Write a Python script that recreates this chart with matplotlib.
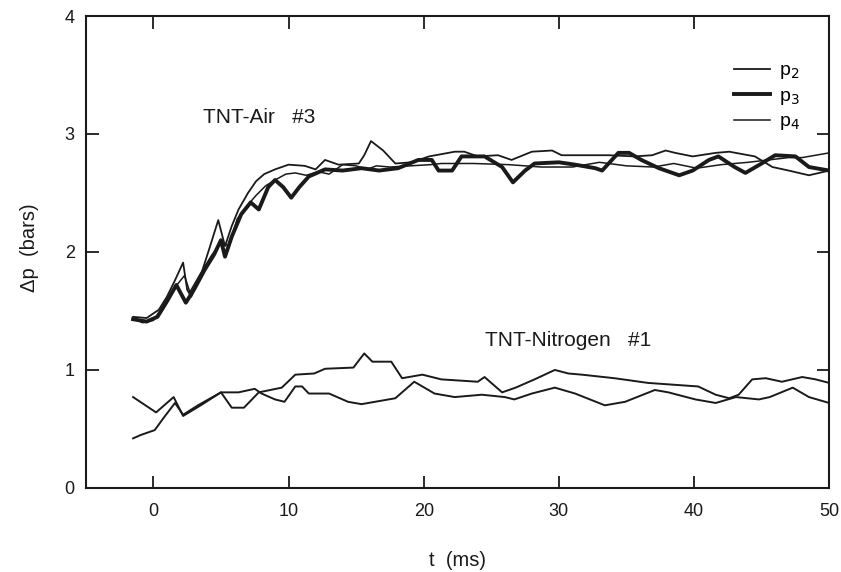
import matplotlib
matplotlib.use("Agg")
import matplotlib.pyplot as plt

plt.rcParams['font.family'] = ['Liberation Sans', 'DejaVu Sans']

# TNT-Air #3 traces
t_p2 = [-1.5, -0.5, 0.4, 1.0, 1.6, 2.2, 2.5, 2.8, 3.5, 4.2, 4.8, 5.3, 5.8, 6.3, 7.0, 7.6, 8.2, 9.0,
        10.0, 11.2, 12.0, 12.7, 13.7, 15.2, 15.6, 16.1, 17.0, 17.9, 19.1, 20.4, 22.3, 23.0, 24.0,
        25.5, 26.5, 28.0, 29.5, 30.2, 31.7, 33.7, 35.6, 36.9, 37.9, 38.6, 39.9, 41.6, 42.6, 44.5,
        45.8, 47.0, 48.5, 50.0]
p2_air = [1.45, 1.44, 1.51, 1.62, 1.76, 1.91, 1.68, 1.62, 1.80, 2.05, 2.27, 2.05, 2.22, 2.36, 2.50,
          2.60, 2.66, 2.70, 2.74, 2.73, 2.70, 2.78, 2.74, 2.75, 2.82, 2.94, 2.86, 2.75, 2.76, 2.81,
          2.85, 2.85, 2.81, 2.82, 2.78, 2.85, 2.86, 2.82, 2.82, 2.82, 2.81, 2.82, 2.86, 2.84, 2.81,
          2.84, 2.85, 2.81, 2.72, 2.69, 2.65, 2.69]

t_p3 = [-1.5, -0.5, 0.3, 1.0, 1.7, 2.4, 3.0, 3.8, 4.5, 5.0, 5.3, 5.8, 6.5, 7.2, 7.8, 8.5, 9.0, 9.6,
        10.2, 10.8, 11.5, 12.7, 14.0, 15.4, 16.7, 18.1, 19.6, 20.6, 21.1, 22.1, 22.8, 24.5, 25.8,
        26.6, 27.5, 28.2, 30.0, 31.2, 32.7, 33.2, 34.4, 35.2, 36.1, 37.4, 38.9, 39.9, 41.1, 41.8,
        43.0, 43.8, 45.0, 46.0, 47.5, 48.5, 50.0]
p3_air = [1.43, 1.41, 1.45, 1.58, 1.72, 1.57, 1.68, 1.85, 1.98, 2.10, 1.96, 2.13, 2.32, 2.42, 2.36,
          2.55, 2.61, 2.55, 2.46, 2.55, 2.64, 2.70, 2.69, 2.71, 2.69, 2.71, 2.78, 2.78, 2.69, 2.69,
          2.81, 2.81, 2.72, 2.59, 2.69, 2.75, 2.76, 2.74, 2.71, 2.69, 2.84, 2.84, 2.78, 2.71, 2.65,
          2.69, 2.78, 2.81, 2.72, 2.67, 2.75, 2.82, 2.81, 2.72, 2.69]

t_p4 = [-1.5, -0.8, 0.0, 0.8, 1.6, 2.3, 2.7, 3.5, 4.3, 5.0, 5.6, 6.2, 7.0, 7.6, 8.3, 9.0, 9.8, 10.5,
        11.3, 12.2, 13.0, 14.0, 15.0, 15.8, 16.5, 17.5, 19.0, 20.5, 21.3, 23.7, 26.3, 28.7, 31.0,
        33.0, 35.0, 37.0, 38.5, 40.2, 42.0, 44.0, 45.5, 47.0, 48.0, 49.0, 50.0]
p4_air = [1.44, 1.40, 1.42, 1.55, 1.70, 1.80, 1.66, 1.82, 1.97, 2.08, 2.05, 2.28, 2.40, 2.48, 2.56,
          2.61, 2.66, 2.67, 2.65, 2.68, 2.66, 2.74, 2.73, 2.70, 2.73, 2.72, 2.73, 2.74, 2.75, 2.75,
          2.74, 2.72, 2.72, 2.76, 2.73, 2.72, 2.75, 2.71, 2.74, 2.76, 2.78, 2.80, 2.80, 2.82, 2.84]

# TNT-Nitrogen #1 traces
t_n1 = [-1.5, 0.2, 1.5, 2.2, 3.5, 5.0, 5.8, 6.7, 7.8, 9.5, 10.5, 11.9, 12.7, 14.8, 15.6, 16.2, 17.6,
        18.4, 19.9, 21.3, 24.0, 24.5, 25.8, 26.8, 28.2, 29.7, 30.7, 31.7, 34.1, 36.6, 40.3, 41.6,
        42.6, 43.3, 44.3, 45.3, 46.5, 48.0, 49.0, 50.0]
p_n1 = [0.77, 0.64, 0.77, 0.61, 0.70, 0.81, 0.68, 0.68, 0.81, 0.85, 0.96, 0.97, 1.01, 1.02, 1.14,
        1.07, 1.07, 0.93, 0.96, 0.92, 0.90, 0.94, 0.81, 0.85, 0.92, 1.00, 0.97, 0.96, 0.93, 0.89,
        0.86, 0.79, 0.76, 0.79, 0.92, 0.93, 0.90, 0.94, 0.92, 0.89]

t_n2 = [-1.5, -0.9, 0.1, 0.8, 1.6, 2.2, 3.3, 5.0, 6.3, 7.5, 8.0, 9.0, 9.7, 10.5, 11.0, 11.5, 13.0,
        14.4, 15.4, 17.9, 19.3, 20.8, 22.3, 24.3, 26.0, 26.7, 28.0, 29.7, 31.2, 33.4, 34.9, 37.1,
        38.1, 40.1, 41.6, 43.1, 44.8, 45.6, 47.3, 48.5, 50.0]
p_n2 = [0.42, 0.45, 0.49, 0.60, 0.72, 0.62, 0.70, 0.81, 0.81, 0.84, 0.80, 0.75, 0.73, 0.86, 0.86,
        0.80, 0.80, 0.73, 0.71, 0.76, 0.90, 0.80, 0.77, 0.79, 0.77, 0.75, 0.80, 0.85, 0.80, 0.70,
        0.73, 0.83, 0.81, 0.75, 0.72, 0.77, 0.75, 0.77, 0.85, 0.77, 0.72]

x_ticks = [0, 10, 20, 30, 40, 50]
y_ticks = [0, 1, 2, 3, 4]

fig = plt.figure(figsize=(8.41, 5.72), dpi=100)
ax = fig.add_axes([0.102, 0.147, 0.884, 0.825])

ink = "#1a1a1a"
l2, = ax.plot(t_p2, p2_air, color=ink, lw=1.3)
l3, = ax.plot(t_p3, p3_air, color=ink, lw=2.8)
l4, = ax.plot(t_p4, p4_air, color=ink, lw=1.1)
ax.plot(t_n1, p_n1, color=ink, lw=1.4)
ax.plot(t_n2, p_n2, color=ink, lw=1.4)

ax.set_xlim(-5, 50)
ax.set_ylim(0, 4)
ax.set_xticks(x_ticks)
ax.set_yticks(y_ticks)
ax.tick_params(direction="in", length=9, width=1.3, top=True, right=True,
               labelsize=13, colors=ink)
ax.tick_params(axis="x", pad=11)
ax.tick_params(axis="y", pad=8)
for s in ax.spines.values():
    s.set_linewidth(1.5)
    s.set_color(ink)

ax.set_xlabel("t  (ms)", fontsize=14.5, labelpad=22, color=ink)
ax.set_ylabel("Δp  (bars)", fontsize=14.5, color=ink)
ax.yaxis.set_label_coords(-0.063, 0.51)

ax.text(3.7, 3.14, "TNT-Air   #3", fontsize=15, va="center", color=ink)
ax.text(24.5, 1.25, "TNT-Nitrogen   #1", fontsize=15, va="center", color=ink)

ax.legend([l2, l3, l4], ["p$_2$", "p$_3$", "p$_4$"], loc="upper left",
          bbox_to_anchor=(0.849, 0.94), frameon=False, fontsize=14,
          handlelength=1.85, labelspacing=0.3, handletextpad=0.45)

fig.savefig("out.png", dpi=100)
